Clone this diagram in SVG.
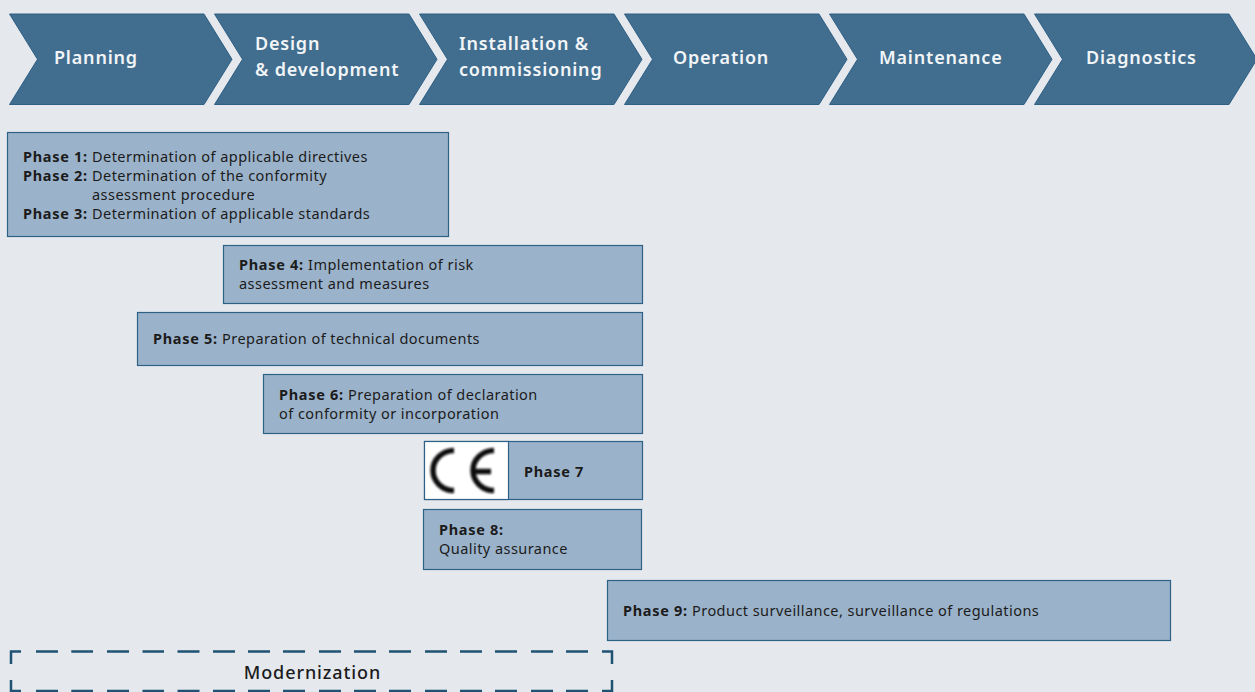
<svg xmlns="http://www.w3.org/2000/svg" width="1255" height="692" viewBox="0 0 1255 692">
<style>
text{font-family:"Noto Sans","Open Sans","Liberation Sans",sans-serif;font-size:14.5px;letter-spacing:.45px;fill:#1b1b1b}
.b{font-weight:700;letter-spacing:.7px}
.c{fill:#416d8e;stroke:#2f6085;stroke-width:1}
.h{font-size:18px;font-weight:600;fill:#f2f5f7;letter-spacing:.8px}
.p{fill:#9bb3ca;stroke:#2f6085;stroke-width:1.2}
.d{stroke:#1f5273;stroke-width:2.5;fill:none}
</style>
<rect width="1255" height="692" fill="#e5e9ee"/>
<defs><path id="chev" d="M0 0H194.500L222.500 45.300L194.500 90.500H0L28 45.300Z"/><filter id="soft" x="-10%" y="-10%" width="120%" height="120%"><feGaussianBlur stdDeviation="0.8"/></filter></defs>
<g id="step-planning"><use href="#chev" class="c" x="9.500" y="14"/><text class="h" x="54" y="64">Planning</text></g>
<g id="step-design"><use href="#chev" class="c" x="214.500" y="14"/><text class="h" x="255" y="50">Design</text><text class="h" x="255" y="76">&amp; development</text></g>
<g id="step-installation"><use href="#chev" class="c" x="419.500" y="14"/><text class="h" x="459" y="50">Installation &amp;</text><text class="h" x="459" y="76">commissioning</text></g>
<g id="step-operation"><use href="#chev" class="c" x="624.500" y="14"/><text class="h" x="673" y="64">Operation</text></g>
<g id="step-maintenance"><use href="#chev" class="c" x="829.500" y="14"/><text class="h" x="879" y="64">Maintenance</text></g>
<g id="step-diagnostics"><use href="#chev" class="c" x="1034.500" y="14"/><text class="h" x="1086" y="64">Diagnostics</text></g>

<g id="phase-1-3"><rect class="p" x="7.500" y="132.500" width="441" height="104"/>
<text class="b" x="23" y="162">Phase 1:</text><text x="92" y="162">Determination of applicable directives</text>
<text class="b" x="23" y="181">Phase 2:</text><text x="92" y="181">Determination of the conformity</text>
<text x="92" y="200">assessment procedure</text>
<text class="b" x="23" y="219">Phase 3:</text><text x="92" y="219">Determination of applicable standards</text></g>
<g id="phase-4"><rect class="p" x="223.500" y="245.500" width="419" height="58"/>
<text x="239" y="270"><tspan class="b">Phase 4:</tspan> Implementation of risk</text><text x="239" y="289">assessment and measures</text></g>
<g id="phase-5"><rect class="p" x="137.500" y="312.500" width="505" height="53"/>
<text x="153" y="344"><tspan class="b">Phase 5:</tspan> Preparation of technical documents</text></g>
<g id="phase-6"><rect class="p" x="263.500" y="374.500" width="379" height="59"/>
<text x="279" y="400"><tspan class="b">Phase 6:</tspan> Preparation of declaration</text><text x="279" y="419">of conformity or incorporation</text></g>
<g id="phase-7"><rect class="p" x="424.500" y="441.500" width="218" height="58"/><rect x="424.500" y="441.500" width="84" height="58" fill="#fff" stroke="#2f6085" stroke-width="1.200"/>
<path filter="url(#soft)" d="M454 450.500A21 20 0 0 0 454 490.500M494 450.500A21 20 0 0 0 494 490.500M473 471.500H491" fill="none" stroke="#111" stroke-width="5.500"/>
<text class="b" x="524" y="477">Phase 7</text></g>
<g id="phase-8"><rect class="p" x="423.500" y="509.500" width="218" height="60"/>
<text class="b" x="439" y="535">Phase 8:</text><text x="439" y="554">Quality assurance</text></g>
<g id="phase-9"><rect class="p" x="607.500" y="580.500" width="563" height="60"/>
<text x="623" y="616"><tspan class="b">Phase 9:</tspan> Product surveillance, surveillance of regulations</text></g>
<g id="modernization">
<path class="d" d="M11 664V651.500H21M36 651.500H58M71.300 651.500H93M107 651.500H129M142.500 651.500H164M177.500 651.500H199.500M213 651.500H235M248 651.500H270M283 651.500H305M319 651.500H341M354 651.500H376M389 651.500H411M425 651.500H447M460 651.500H482M495 651.500H517M531 651.500H553M566 651.500H588M602 651.500H612V664"/>
<path class="d" d="M11 692V680M612 692V680M11 691H21M36 691H58M71.300 691H93M107 691H129M142.500 691H164M177.500 691H199.500M213 691H235M248 691H270M283 691H305M319 691H341M354 691H376M389 691H411M425 691H447M460 691H482M495 691H517M531 691H553M566 691H588M602 691H612"/>
<text x="312.500" y="679" text-anchor="middle" style="font-size:18px;font-weight:500;letter-spacing:.9px">Modernization</text></g>
</svg>
